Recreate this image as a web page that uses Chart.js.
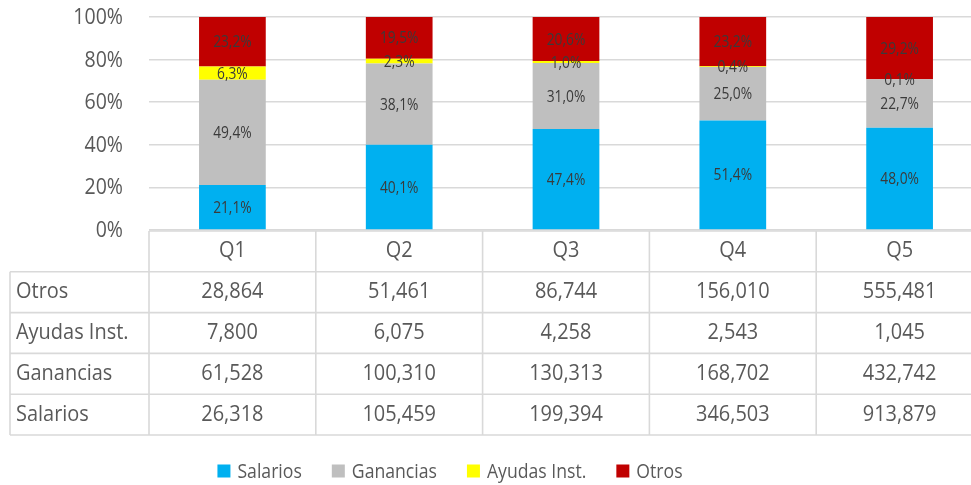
<!DOCTYPE html>
<html>
<head>
<meta charset="utf-8">
<script src="https://cdn.jsdelivr.net/npm/chart.js@4"></script>
<style>
  html, body { margin: 0; padding: 0; background: #fff; overflow: hidden; }
  #wrap { position: absolute; left: 0; top: 0; width: 984px; height: 485px; }
</style>
</head>
<body>
<div id="wrap"><canvas id="grafico" width="984" height="485"></canvas></div>
<script>
// Datos
var categorias = ['Q1', 'Q2', 'Q3', 'Q4', 'Q5'];
var salarios = [26318, 105459, 199394, 346503, 913879];
var ganancias = [61528, 100310, 130313, 168702, 432742];
var ayudas = [7800, 6075, 4258, 2543, 1045];
var otros = [28864, 51461, 86744, 156010, 555481];
var ticksY = [0, 20, 40, 60, 80, 100];

var nombres = ['Salarios', 'Ganancias', 'Ayudas Inst.', 'Otros'];
var colores = ['#00B0F0', '#BFBFBF', '#FFFF00', '#C00000'];
var series = [salarios, ganancias, ayudas, otros];

// totales por quintil y porcentajes
var totales = categorias.map(function (c, i) {
    return salarios[i] + ganancias[i] + ayudas[i] + otros[i];
});
function porcentajes(arr) {
    return arr.map(function (v, i) { return v / totales[i] * 100; });
}

var FUENTE = '"Open Sans", "Noto Sans", sans-serif';

function texto(ctx, t, x, y, size, align, color, sx) {
    ctx.save();
    ctx.translate(x, y);
    ctx.scale(sx || 1, 1);
    ctx.font = size + 'px ' + FUENTE;
    ctx.fillStyle = color;
    ctx.textAlign = align;
    ctx.textBaseline = 'middle';
    ctx.fillText(t, 0, 0);
    ctx.restore();
}

function miles(n) {
    return String(n).replace(/\B(?=(\d{3})+(?!\d))/g, ',');
}

var extras = {
    id: 'extras',
    afterDatasetsDraw: function (chart) {
        var ctx = chart.ctx;
        // etiquetas de porcentaje
        chart.data.datasets.forEach(function (ds, d) {
            var meta = chart.getDatasetMeta(d);
            meta.data.forEach(function (bar, i) {
                var v = ds.data[i];
                var yc = (bar.y + bar.base) / 2;
                texto(ctx, v.toFixed(1).replace('.', ',') + '%', bar.x, yc + 1, 16, 'center', '#3a3a3a', 0.86);
            });
        });
    },
    afterDraw: function (chart) {
        var ctx = chart.ctx;
        var area = chart.chartArea;
        var ys = chart.scales.y;
        var xs = chart.scales.x;

        // ticks eje y
        ticksY.forEach(function (t) {
            texto(ctx, t + '%', 123, ys.getPixelForValue(t) + 1, 21, 'right', '#595959', 0.93);
        });

        // tabla de datos
        var ancho = (area.right - area.left) / categorias.length;
        var top = area.bottom + 1;
        var fila = 40.8;
        var izq = 10;
        var filas = [
            ['Otros', otros],
            ['Ayudas Inst.', ayudas],
            ['Ganancias', ganancias],
            ['Salarios', salarios]
        ];
        var fondo = top + fila * (filas.length + 1);

        ctx.save();
        ctx.strokeStyle = '#D9D9D9';
        ctx.lineWidth = 1.6;
        ctx.beginPath();
        ctx.moveTo(area.left, top);
        ctx.lineTo(area.right, top);
        for (var r = 1; r <= filas.length + 1; r++) {
            ctx.moveTo(izq, top + fila * r);
            ctx.lineTo(area.right, top + fila * r);
        }
        ctx.moveTo(izq, top + fila);
        ctx.lineTo(izq, fondo);
        for (var c = 0; c < categorias.length; c++) {
            var bx = area.left + ancho * c;
            ctx.moveTo(bx, top);
            ctx.lineTo(bx, fondo);
        }
        ctx.stroke();
        ctx.restore();

        categorias.forEach(function (cat, i) {
            texto(ctx, cat, xs.getPixelForValue(i), top + fila / 2, 21, 'center', '#595959', 0.95);
        });
        filas.forEach(function (f, r) {
            var yc = top + fila * (r + 1) + fila / 2;
            texto(ctx, f[0], izq + 6, yc, 21, 'left', '#595959', 0.95);
            f[1].forEach(function (v, i) {
                texto(ctx, miles(v), xs.getPixelForValue(i), yc, 21, 'center', '#595959', 0.95);
            });
        });

        // leyenda
        var tamL = 20.5, sxL = 0.86;
        ctx.save();
        ctx.font = tamL + 'px ' + FUENTE;
        var cuadro = 13, gap = 7, sep = 30;
        var anchos = nombres.map(function (n) { return ctx.measureText(n).width * sxL; });
        var total = 0;
        anchos.forEach(function (w, k) { total += cuadro + gap + w + (k < anchos.length - 1 ? sep : 0); });
        ctx.restore();
        var lx = 450 - total / 2;
        var ly = 471;
        nombres.forEach(function (n, k) {
            ctx.fillStyle = colores[k];
            ctx.fillRect(lx, ly - cuadro / 2, cuadro, cuadro);
            texto(ctx, n, lx + cuadro + gap, ly + 1, tamL, 'left', '#595959', sxL);
            lx += cuadro + gap + anchos[k] + sep;
        });
    }
};

var datos = {
    labels: categorias,
    datasets: series.map(function (s, k) {
        return {
            label: nombres[k],
            data: porcentajes(s),
            backgroundColor: colores[k],
            borderWidth: 0,
            barPercentage: 0.4,
            categoryPercentage: 1
        };
    })
};

var config = {
    type: 'bar',
    data: datos,
    options: {
        responsive: false,
        animation: false,
        devicePixelRatio: 1,
        layout: { padding: { top: 17, bottom: 255, left: 0, right: 1 } },
        plugins: { legend: { display: false }, tooltip: { enabled: false } },
        scales: {
            x: { stacked: true, display: false },
            y: {
                stacked: true,
                min: 0,
                max: 100,
                ticks: { display: false, stepSize: 20 },
                grid: { color: '#D9D9D9', lineWidth: 1.6, drawTicks: false },
                border: { display: false },
                afterFit: function (scale) {
                    scale.width = 149;
                    scale.paddingTop = 0;
                    scale.paddingBottom = 0;
                }
            }
        }
    },
    plugins: [extras]
};

var grafico = new Chart(document.getElementById('grafico'), config);
</script>
</body>
</html>
